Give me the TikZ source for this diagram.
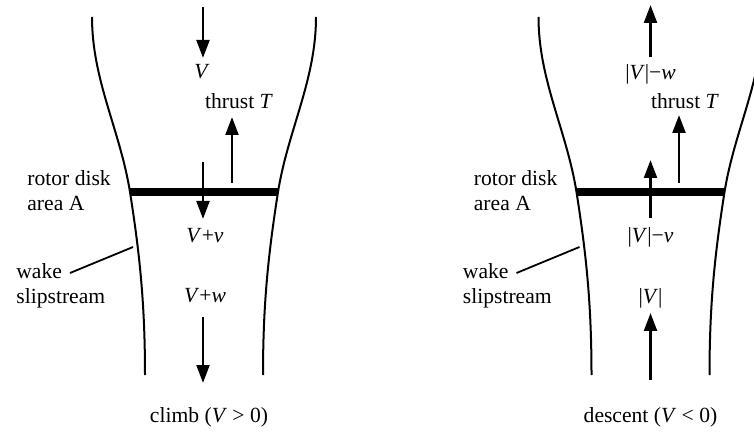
\documentclass[tikz,border=0pt]{standalone}
\usepackage{fontspec}
\setmainfont{Liberation Serif}
\usetikzlibrary{arrows.meta}
\tikzset{%
   % walls of the slipstream tube
   wall/.style={line width=1pt},
   disk/.style={line width=3.6pt},
   flow/.style={
      line width=1.4pt,
      -{Triangle[length=9pt,width=6.4pt]}
   },
   lbl/.style={inner sep=1pt, font=\fontsize{10.8}{12.5}\selectfont},
   side/.style={lbl, align=left, anchor=west},
   leader/.style={line width=0.9pt},
}

\begin{document}
\begin{tikzpicture}[x=0.5pt, y=-0.5pt]
\useasboundingbox (0,0) rectangle (754,432);
\clip (0,0) rectangle (754,432);
% tube, disk and side labels, same in both panels
\foreach \c/\p in {204/a, 650.5/b}{
  \begin{scope}[shift={(\c,0)}]
    \coordinate (\p-lt) at (-112,17);
    \coordinate (\p-dl) at (-74,192);
    \coordinate (\p-lb) at (-59,375);
    \coordinate (\p-rt) at (112,17);
    \coordinate (\p-dr) at (74,192);
    \coordinate (\p-rb) at (59,375);
    \draw[wall] (\p-lt) .. controls (-112,80) and (-84,130) .. (\p-dl)
                        .. controls (-65,250) and (-59,300) .. (\p-lb);
    \draw[wall] (\p-rt) .. controls (112,80) and (84,130) .. (\p-dr)
                        .. controls (65,250) and (59,300) .. (\p-rb);
    \draw[disk] (\p-dl) -- (\p-dr);
    \node[side] (\p-rotor) at (-179,190.5) {rotor disk\\area A};
    \node[side] (\p-wake) at (-190,285.5) {wake\\slipstream};
    \coordinate (\p-w0) at (-134,273);
    \coordinate (\p-w1) at (-71,247);
    \draw[leader] (\p-w0) -- (\p-w1);
  \end{scope}
}
% climb
\begin{scope}[shift={(204,0)}]
  \coordinate (c1) at (-1,7);
  \coordinate (c2) at (-1,58);
  \draw[flow] (c1) -- (c2);
  \node[lbl] (cV) at (-2,72) {\textit{V}};
  \node[lbl] (cthrust) at (35,101) {thrust \textit{T}};
  \coordinate (cT0) at (28,183);
  \coordinate (cT1) at (28,117);
  \draw[flow] (cT0) -- (cT1);
  \coordinate (c3) at (-1,162);
  \coordinate (c4) at (-1,219);
  \draw[flow] (c3) -- (c4);
  \node[lbl] (cVv) at (1,236) {\textit{V}+\textit{v}};
  \node[lbl] (cVw) at (1,296) {\textit{V}+\textit{w}};
  \coordinate (c5) at (-1,317);
  \coordinate (c6) at (-1,383);
  \draw[flow] (c5) -- (c6);
  \node[lbl] (climb) at (5,417) {climb (\textit{V} > 0)};
\end{scope}
% descent
\begin{scope}[shift={(650.5,0)}]
  \coordinate (d1) at (0,57);
  \coordinate (d2) at (0,5);
  \draw[flow] (d1) -- (d2);
  \node[lbl] (dVw) at (0,74) {|\textit{V}|−\textit{w}};
  \node[lbl] (dthrust) at (34.5,101) {thrust \textit{T}};
  \coordinate (dT0) at (28.5,183);
  \coordinate (dT1) at (28.5,115);
  \draw[flow] (dT0) -- (dT1);
  \coordinate (d3) at (0,218);
  \coordinate (d4) at (0,160);
  \draw[flow] (d3) -- (d4);
  \node[lbl] (dVv) at (0,237) {|\textit{V}|−\textit{v}};
  \node[lbl] (dV) at (0,298) {|\textit{V}|};
  \coordinate (d5) at (0,380);
  \coordinate (d6) at (0,313);
  \draw[flow] (d5) -- (d6);
  \node[lbl] (descent) at (0,417) {descent (\textit{V} < 0)};
\end{scope}
\end{tikzpicture}
\end{document}
